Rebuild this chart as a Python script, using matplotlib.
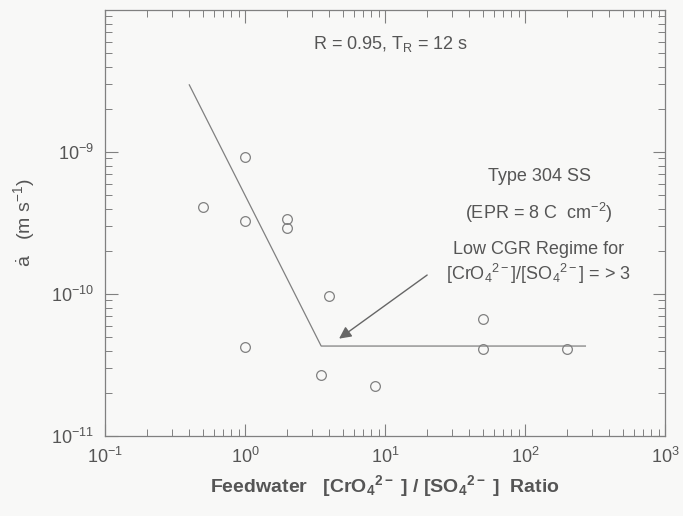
import matplotlib
matplotlib.use('Agg')
import matplotlib.pyplot as plt
from matplotlib.ticker import LogLocator, NullFormatter

plt.rcParams['font.family'] = ['Liberation Sans', 'DejaVu Sans']
plt.rcParams['mathtext.fontset'] = 'custom'
plt.rcParams['mathtext.rm'] = 'Liberation Sans'
plt.rcParams['mathtext.it'] = 'Liberation Sans'
plt.rcParams['mathtext.default'] = 'regular'

# measured points
ratio = [0.5, 1.0, 1.0, 1.0, 2.0, 2.0, 3.5, 4.0, 8.5, 50, 50, 200]
cgr = [4.1e-10, 9.2e-10, 3.25e-10, 4.2e-11, 3.4e-10, 2.9e-10, 2.7e-11, 9.7e-11, 2.25e-11, 6.7e-11, 4.1e-11, 4.1e-11]

# bilinear trend line
trend_x = [0.40, 3.5, 270]
trend_y = [2.97e-9, 4.3e-11, 4.3e-11]

txt = '#555555'
ln = '#808080'
bg = '#f8f8f7'

fig = plt.figure(figsize=(6.83, 5.16), dpi=100, facecolor=bg)
ax = fig.add_axes([105 / 683, 1 - 436 / 516, 560 / 683, 426 / 516])
ax.set_facecolor(bg)

ax.plot(trend_x, trend_y, color=ln, lw=0.9)
ax.plot(ratio, cgr, 'o', mfc='none', mec=ln, ms=7, mew=0.9)

ax.set_xscale('log')
ax.set_yscale('log')
ax.set_xlim(0.1, 1000)
ax.set_ylim(1e-11, 1e-8)
ax.set_yticks([1e-11, 1e-10, 1e-9])

ax.xaxis.set_minor_locator(LogLocator(base=10, subs=range(2, 10)))
ax.yaxis.set_minor_locator(LogLocator(base=10, subs=range(2, 10)))
ax.xaxis.set_minor_formatter(NullFormatter())
ax.yaxis.set_minor_formatter(NullFormatter())
ax.tick_params(which='both', direction='in', top=True, right=True, color=ln,
               labelcolor=txt, labelsize=13, pad=8)
ax.tick_params(which='major', length=9, width=0.8)
ax.tick_params(which='minor', length=5, width=0.7)
for s in ax.spines.values():
    s.set_color(ln)
    s.set_linewidth(0.9)

ax.set_xlabel('Feedwater   [CrO$_4$$^{2-}$ ] / [SO$_4$$^{2-}$ ]  Ratio',
              fontsize=14, fontweight='bold', color=txt, labelpad=4)
ax.set_ylabel('$\\dot{a}$   (m s$^{-1}$)', fontsize=14, color=txt, labelpad=10)

fs = 13
ax.text(0.51, 0.92, 'R = 0.95, T$_R$ = 12 s', transform=ax.transAxes,
        ha='center', va='center', fontsize=fs, color=txt)
ax.text(0.775, 0.608, 'Type 304 SS', transform=ax.transAxes,
        ha='center', va='center', fontsize=fs, color=txt)
ax.text(0.775, 0.523, '(EPR = 8 C  cm$^{-2}$)', transform=ax.transAxes,
        ha='center', va='center', fontsize=fs, color=txt)
ax.text(0.775, 0.437, 'Low CGR Regime for', transform=ax.transAxes,
        ha='center', va='center', fontsize=fs, color=txt)
ax.text(0.775, 0.38, '[CrO$_4$$^{2-}$]/[SO$_4$$^{2-}$] = > 3', transform=ax.transAxes,
        ha='center', va='center', fontsize=fs, color=txt)

ax.annotate('', xy=(4.7, 4.85e-11), xytext=(20, 1.36e-10),
            arrowprops=dict(arrowstyle='-|>', color='#666666', lw=1.0,
                            mutation_scale=18, shrinkA=0, shrinkB=0))

fig.savefig('out.png', dpi=100, facecolor=bg)
